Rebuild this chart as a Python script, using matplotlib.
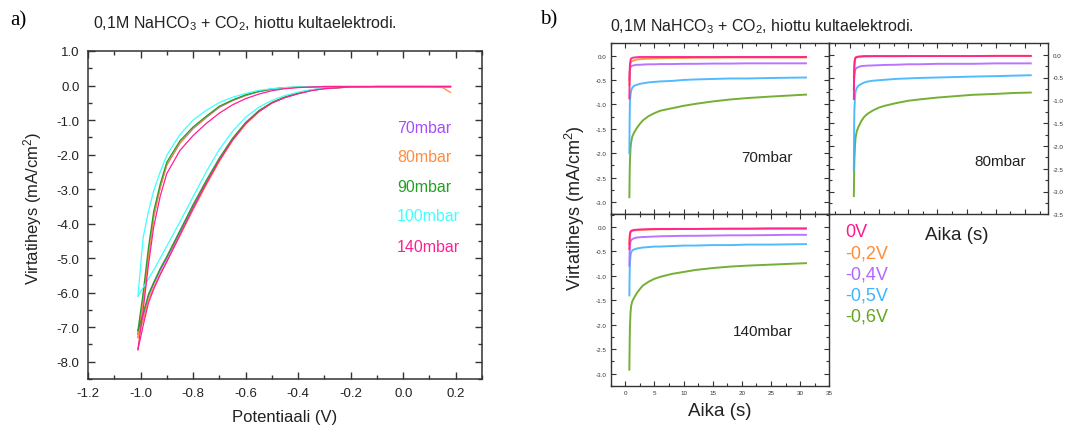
import matplotlib
matplotlib.use("Agg")
import matplotlib.pyplot as plt
from matplotlib.ticker import MultipleLocator

plt.rcParams['font.family'] = ['Liberation Sans', 'DejaVu Sans']
plt.rcParams['mathtext.fontset'] = 'custom'
plt.rcParams['mathtext.rm'] = 'Liberation Sans'
plt.rcParams['mathtext.it'] = 'Liberation Sans:italic'
plt.rcParams['mathtext.default'] = 'regular'

# ---------------- data: panel a (cyclic voltammetry) ----------------
potential = [0.18, 0.15, 0.1, 0.0, -0.1, -0.2, -0.3, -0.35, -0.4, -0.45, -0.5, -0.55,
             -0.6, -0.65, -0.7, -0.75, -0.8, -0.85, -0.9, -0.925, -0.95, -0.97, -0.99, -1.01]

cv_labels = ['70mbar', '80mbar', '90mbar', '100mbar', '140mbar']
cv_colors = ['#A64DFF', '#FF8C40', '#22A022', '#40FFFF', '#FF2090']

# outer right branch
cv_70_fwd = [-0.03, -0.03, -0.03, -0.03, -0.03, -0.04, -0.09, -0.14, -0.23, -0.34, -0.5, -0.75,
             -1.1, -1.57, -2.15, -2.8, -3.5, -4.25, -5.0, -5.35, -5.75, -6.1, -6.7, -7.2]
cv_80_fwd = [-0.2, -0.06, -0.03, -0.03, -0.03, -0.04, -0.09, -0.14, -0.23, -0.34, -0.5, -0.76,
             -1.12, -1.6, -2.2, -2.88, -3.6, -4.35, -5.1, -5.45, -5.85, -6.2, -6.8, -7.3]
cv_90_fwd = [-0.03, -0.03, -0.03, -0.03, -0.03, -0.04, -0.08, -0.13, -0.22, -0.33, -0.49, -0.73,
             -1.07, -1.53, -2.1, -2.75, -3.45, -4.2, -4.95, -5.3, -5.7, -6.05, -6.6, -7.1]
cv_100_fwd = [-0.03, -0.03, -0.03, -0.03, -0.03, -0.04, -0.07, -0.12, -0.19, -0.29, -0.43, -0.63,
              -0.92, -1.33, -1.85, -2.5, -3.22, -3.95, -4.65, -5.0, -5.35, -5.6, -5.85, -6.1]
cv_140_fwd = [-0.03, -0.03, -0.03, -0.03, -0.03, -0.04, -0.09, -0.15, -0.24, -0.35, -0.51, -0.76,
              -1.11, -1.58, -2.17, -2.84, -3.56, -4.33, -5.1, -5.48, -5.9, -6.3, -6.95, -7.65]

# inner left branch
cv_70_rev = [-0.03, -0.03, -0.03, -0.03, -0.03, -0.03, -0.03, -0.04, -0.05, -0.07, -0.11, -0.18,
             -0.29, -0.44, -0.63, -0.93, -1.25, -1.67, -2.3, -2.95, -3.8, -4.9, -6.2, -7.2]
cv_80_rev = [-0.03, -0.03, -0.03, -0.03, -0.03, -0.03, -0.03, -0.04, -0.05, -0.07, -0.1, -0.17,
             -0.28, -0.43, -0.62, -0.92, -1.24, -1.66, -2.3, -2.95, -3.82, -4.95, -6.25, -7.3]
cv_90_rev = [-0.03, -0.03, -0.03, -0.03, -0.03, -0.03, -0.03, -0.04, -0.05, -0.06, -0.1, -0.17,
             -0.27, -0.42, -0.6, -0.89, -1.2, -1.6, -2.22, -2.85, -3.65, -4.7, -6.0, -7.1]
cv_100_rev = [-0.03, -0.03, -0.03, -0.03, -0.03, -0.03, -0.03, -0.03, -0.04, -0.06, -0.09, -0.14,
              -0.23, -0.34, -0.49, -0.72, -1.0, -1.42, -2.02, -2.5, -3.05, -3.65, -4.4, -6.1]
cv_140_rev = [-0.03, -0.03, -0.03, -0.03, -0.03, -0.03, -0.03, -0.04, -0.06, -0.09, -0.15, -0.25,
              -0.38, -0.56, -0.8, -1.1, -1.45, -1.88, -2.55, -3.2, -4.1, -5.2, -6.5, -7.65]

cv_fwd = [cv_70_fwd, cv_80_fwd, cv_90_fwd, cv_100_fwd, cv_140_fwd]
cv_rev = [cv_70_rev, cv_80_rev, cv_90_rev, cv_100_rev, cv_140_rev]

# ---------------- data: panel b (chronoamperometry) ----------------
time_s = [0.7, 0.75, 0.8, 0.9, 1.0, 1.2, 1.5, 2, 2.5, 3, 4, 5, 6, 8, 10, 12, 15, 18, 21, 25, 28, 31]
ca_labels = ['0V', '-0,2V', '-0,4V', '-0,5V', '-0,6V']
ca_colors = ['#FF1A8C', '#FF8C3A', '#B366FF', '#3DB4FF', '#66A61E']

ca_70 = [
    [-0.88, -0.45, -0.2, -0.09, -0.06, -0.05, -0.04, -0.035, -0.03, -0.03, -0.03, -0.03, -0.03,
     -0.03, -0.03, -0.03, -0.03, -0.03, -0.03, -0.03, -0.03, -0.03],
    [-0.6, -0.35, -0.22, -0.15, -0.13, -0.11, -0.1, -0.08, -0.075, -0.07, -0.065, -0.06, -0.055,
     -0.05, -0.05, -0.045, -0.045, -0.04, -0.04, -0.04, -0.04, -0.04],
    [-0.5, -0.35, -0.28, -0.24, -0.22, -0.21, -0.2, -0.19, -0.19, -0.185, -0.18, -0.18, -0.175,
     -0.175, -0.17, -0.17, -0.165, -0.165, -0.16, -0.16, -0.16, -0.16],
    [-2.0, -1.3, -0.95, -0.8, -0.72, -0.66, -0.62, -0.6, -0.58, -0.57, -0.55, -0.54, -0.53,
     -0.52, -0.5, -0.49, -0.48, -0.47, -0.47, -0.46, -0.455, -0.45],
    [-2.9, -2.45, -2.15, -1.9, -1.78, -1.66, -1.58, -1.48, -1.4, -1.33, -1.24, -1.18, -1.13,
     -1.08, -1.03, -0.99, -0.94, -0.9, -0.87, -0.84, -0.82, -0.80],
]
ca_80 = [
    [-0.97, -0.5, -0.25, -0.1, -0.06, -0.05, -0.04, -0.035, -0.03, -0.03, -0.03, -0.03, -0.03,
     -0.03, -0.03, -0.03, -0.03, -0.03, -0.03, -0.025, -0.025, -0.025],
    [-0.5, -0.25, -0.15, -0.09, -0.07, -0.06, -0.05, -0.045, -0.04, -0.04, -0.035, -0.035, -0.035,
     -0.035, -0.03, -0.03, -0.03, -0.03, -0.03, -0.03, -0.03, -0.03],
    [-0.75, -0.55, -0.45, -0.36, -0.31, -0.29, -0.27, -0.25, -0.245, -0.24, -0.235, -0.23, -0.225,
     -0.22, -0.21, -0.21, -0.2, -0.2, -0.2, -0.19, -0.19, -0.19],
    [-2.55, -1.6, -1.2, -0.92, -0.8, -0.73, -0.68, -0.64, -0.61, -0.59, -0.57, -0.56, -0.55,
     -0.53, -0.52, -0.51, -0.5, -0.49, -0.48, -0.47, -0.46, -0.45],
    [-3.1, -2.6, -2.3, -2.0, -1.82, -1.68, -1.58, -1.45, -1.36, -1.3, -1.22, -1.16, -1.12,
     -1.06, -1.01, -0.98, -0.94, -0.91, -0.88, -0.86, -0.84, -0.83],
]
ca_140 = [
    [-0.45, -0.25, -0.15, -0.1, -0.08, -0.07, -0.06, -0.055, -0.05, -0.05, -0.045, -0.04, -0.04,
     -0.04, -0.04, -0.04, -0.035, -0.035, -0.035, -0.03, -0.03, -0.03],
    [-0.35, -0.2, -0.14, -0.1, -0.09, -0.08, -0.07, -0.065, -0.06, -0.055, -0.05, -0.05, -0.045,
     -0.045, -0.04, -0.04, -0.04, -0.035, -0.035, -0.03, -0.03, -0.03],
    [-0.79, -0.5, -0.38, -0.3, -0.27, -0.25, -0.23, -0.215, -0.21, -0.205, -0.2, -0.195, -0.19,
     -0.185, -0.18, -0.18, -0.175, -0.17, -0.17, -0.165, -0.16, -0.16],
    [-1.4, -0.95, -0.72, -0.58, -0.52, -0.48, -0.46, -0.44, -0.43, -0.42, -0.41, -0.4, -0.4,
     -0.39, -0.38, -0.38, -0.37, -0.37, -0.36, -0.36, -0.355, -0.35],
    [-2.92, -2.4, -2.05, -1.75, -1.62, -1.52, -1.45, -1.35, -1.27, -1.2, -1.12, -1.06, -1.02,
     -0.96, -0.92, -0.88, -0.84, -0.81, -0.79, -0.77, -0.755, -0.74],
]

title_text = '0,1M NaHCO$_3$ + CO$_2$, hiottu kultaelektrodi.'

W, H = 1075, 427
fig = plt.figure(figsize=(W / 100, H / 100), dpi=100)


def fax(x0, y0, x1, y1):
    return fig.add_axes([x0 / W, 1 - y1 / H, (x1 - x0) / W, (y1 - y0) / H])


spine_col = '#333333'
text_col = '#222222'

# ---------------- panel a ----------------
axa = fax(88, 52, 482, 380)
for lab, col, fwd, rev in zip(cv_labels, cv_colors, cv_fwd, cv_rev):
    axa.plot(potential, fwd, color=col, lw=0.9)
    axa.plot(potential[::-1], rev[::-1], color=col, lw=0.9)
axa.set_xlim(-1.2, 0.3)
axa.set_ylim(-8.5, 1.0)
axa.xaxis.set_minor_locator(MultipleLocator(0.1))
axa.yaxis.set_minor_locator(MultipleLocator(0.5))
xt_a = [-1.2, -1.0, -0.8, -0.6, -0.4, -0.2, 0.0, 0.2]
yt_a = [1.0, 0.0, -1.0, -2.0, -3.0, -4.0, -5.0, -6.0, -7.0, -8.0]
axa.set_xticks(xt_a)
axa.set_xticklabels(['%.1f' % v if v != 0 else '0.0' for v in xt_a])
axa.set_yticks(yt_a)
axa.set_yticklabels(['%.1f' % v if v != 0 else '0.0' for v in yt_a])
axa.tick_params(which='both', direction='in', top=True, right=True, colors=spine_col,
                labelsize=9.5, labelcolor=text_col, width=1.0)
axa.tick_params(which='major', length=5, pad=6)
axa.tick_params(which='minor', length=3)
for s in axa.spines.values():
    s.set_color(spine_col)
    s.set_linewidth(1.1)
axa.set_xlabel('Potentiaali (V)', fontsize=12, labelpad=7, color=text_col)
fig.text(33 / W, 1 - 208 / H, 'Virtatiheys (mA/cm$^2$)', fontsize=12, rotation=90,
         ha='center', va='center', color=text_col)
label_y = [0.768, 0.677, 0.588, 0.497, 0.405]
for lab, col, yy in zip(cv_labels, cv_colors, label_y):
    axa.text(0.784, yy, lab, transform=axa.transAxes, color=col, fontsize=11.5, va='center', ha='left')

fig.text(93 / W, 1 - 24 / H, title_text, fontsize=11.5, ha='left', va='center', color=text_col)
fig.text(10 / W, 1 - 21 / H, 'a)', fontsize=15, ha='left', va='center', family='Liberation Serif')

# ---------------- panel b ----------------
ax70 = fax(610.7, 44.3, 829.3, 215.3)
ax80 = fax(829.3, 44.3, 1048.3, 215.3)
ax140 = fax(610.7, 215.3, 829.3, 387.3)

panels = [(ax70, ca_70, (-2.5, 35), (-3.25, 0.25)),
          (ax80, ca_80, (-3.5, 34), (-3.5, 0.25)),
          (ax140, ca_140, (-2.5, 35), (-3.26, 0.26))]
for ax, data, xl, yl in panels:
    for i in range(len(ca_labels) - 1, -1, -1):
        ax.plot(time_s, data[i], color=ca_colors[i], lw=1.4, alpha=0.9)
    ax.set_xlim(*xl)
    ax.set_ylim(*yl)
    ax.xaxis.set_major_locator(MultipleLocator(5))
    ax.xaxis.set_minor_locator(MultipleLocator(2.5))
    ax.yaxis.set_major_locator(MultipleLocator(0.5))
    ax.yaxis.set_minor_locator(MultipleLocator(0.25))
    ax.tick_params(which='both', direction='in', top=True, right=True, colors=spine_col,
                   labelsize=4.5, labelcolor='#333333', width=0.8, pad=3)
    ax.tick_params(which='major', length=3.5)
    ax.tick_params(which='minor', length=2)
    for s in ax.spines.values():
        s.set_color(spine_col)
        s.set_linewidth(1.0)

ax70.tick_params(labelbottom=False)
ax80.tick_params(labelbottom=False, labelleft=False, labelright=True)
yt = [0.0, -0.5, -1.0, -1.5, -2.0, -2.5, -3.0]
ytl = ['0.0', '-0.5', '-1.0', '-1.5', '-2.0', '-2.5', '-3.0']
ax70.set_yticks(yt)
ax70.set_yticklabels(ytl)
ax140.set_yticks(yt)
ax140.set_yticklabels(ytl)
yt80 = [0.0, -0.5, -1.0, -1.5, -2.0, -2.5, -3.0, -3.5]
ax80.set_yticks(yt80)
ax80.set_yticklabels(ytl + ['-3.5'])
xt = [0, 5, 10, 15, 20, 25, 30, 35]
ax140.set_xticks(xt)
ax140.set_xticklabels([str(v) for v in xt])

fig.text(767 / W, 1 - 158.3 / H, '70mbar', fontsize=11, ha='center', va='center', color=text_col)
fig.text(1000 / W, 1 - 161.7 / H, '80mbar', fontsize=11, ha='center', va='center', color=text_col)
fig.text(763 / W, 1 - 331.7 / H, '140mbar', fontsize=11, ha='center', va='center', color=text_col)

leg_y = [232.7, 254.0, 275.0, 295.7, 316.7]
for lab, col, yy in zip(ca_labels, ca_colors, leg_y):
    fig.text(845 / W, 1 - yy / H, lab, fontsize=13, color=col, ha='left', va='center')

fig.text(720 / W, 1 - 411.7 / H, 'Aika (s)', fontsize=13.5, ha='center', va='center', color=text_col)
fig.text(956.7 / W, 1 - 235.3 / H, 'Aika (s)', fontsize=13.5, ha='center', va='center', color=text_col)
fig.text(575 / W, 1 - 208 / H, 'Virtatiheys (mA/cm$^2$)', fontsize=13, rotation=90,
         ha='center', va='center', color=text_col)
fig.text(610 / W, 1 - 27 / H, title_text, fontsize=11.5, ha='left', va='center', color=text_col)
fig.text(540 / W, 1 - 20 / H, 'b)', fontsize=15, ha='left', va='center', family='Liberation Serif')

fig.savefig('out.png', dpi=100)
